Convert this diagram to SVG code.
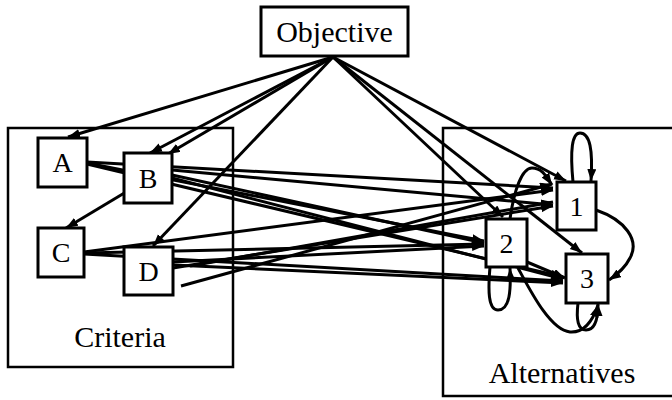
<svg xmlns="http://www.w3.org/2000/svg" width="672" height="400" viewBox="0 0 672 400">
<style>
.box{fill:#fff;stroke:#000;stroke-width:3}
.cont{fill:none;stroke:#000;stroke-width:2.5}
.lbl{font-family:"Liberation Serif","Times New Roman",serif;font-size:28px;fill:#000;text-anchor:middle}
.big{font-family:"Liberation Serif","Times New Roman",serif;font-size:30px;fill:#000;text-anchor:middle}
.edge path{fill:none;stroke:#000;stroke-width:3;marker-end:url(#ah)}
.edge path.plain{marker-end:none}
</style>
<defs>
<marker id="ah" markerUnits="userSpaceOnUse" markerWidth="14" markerHeight="10" refX="12" refY="4.5" orient="auto">
<path d="M0,0 L12,4.5 L0,9 z" fill="#000"/>
</marker>
</defs>
<rect width="672" height="400" fill="#fff"/>
<g id="criteria">
<rect class="cont" x="8" y="128" width="225" height="239"/>
<text class="big" x="120" y="347">Criteria</text>
</g>
<g id="alternatives">
<rect class="cont" x="443" y="128" width="240" height="268"/>
<text class="big" x="562" y="383">Alternatives</text>
</g>
<g id="connectors" class="edge">
<path d="M333,57 L68,137"/>
<path d="M333,57 L150,153"/>
<path d="M333,57 L168,154"/>
<path d="M333,57 L153,246"/>
<path d="M333,57 L566,181"/>
<path d="M333,57 L503,217"/>
<path d="M333,57 L582,253"/>
<path d="M126,192 L66,228"/>
<path d="M87,162 L553,188"/>
<path d="M87,163 L484,241"/>
<path d="M87,164 L563,277"/>
<path d="M172,170 L553,205"/>
<path d="M172,175 L484,243"/>
<path d="M172,178 L563,279"/>
<path d="M84,252 L553,190"/>
<path d="M84,253 L484,244"/>
<path d="M84,254 L563,281"/>
<path d="M173,268 L553,206"/>
<path d="M173,262 L484,246"/>
<path d="M173,265 L563,283"/>
<path d="M181,286 L552,184"/>
<path d="M190,266 L553,202"/>
<path d="M527,262 L565,278"/>
<path d="M573,182 C570,150 572,133 580,133 C590,133 593,150 591,181"/>
<path d="M490,267 C488,290 488,310 498,310 C510,310 511,290 510,268"/>
<path d="M578,303 C576,320 578,330 586,330 C596,330 598,318 598,304"/>
<path d="M596,210 C625,220 640,240 630,258 C624,270 615,276 609,280"/>
<path d="M510,219 C514,190 522,168 532,168 C542,168 546,176 552,185"/>
<path d="M518,268 C530,290 550,330 570,332 C585,333 593,320 598,305"/>
</g>
<g id="objective">
<rect class="box" x="261" y="7" width="147" height="49"/>
<text class="big" x="334.5" y="42">Objective</text>
</g>
<g id="nodeA">
<rect class="box" x="38" y="138" width="49" height="49"/>
<text class="lbl" x="62.5" y="172">A</text>
</g>
<g id="nodeB">
<rect class="box" x="124" y="153" width="48" height="50"/>
<text class="lbl" x="148" y="188">B</text>
</g>
<g id="nodeC">
<rect class="box" x="38" y="228" width="46" height="49"/>
<text class="lbl" x="61" y="262">C</text>
</g>
<g id="nodeD">
<rect class="box" x="124" y="247" width="49" height="48"/>
<text class="lbl" x="148.5" y="281">D</text>
</g>
<g id="node1">
<rect class="box" x="557" y="182" width="39" height="48"/>
<text class="lbl" x="576.5" y="216">1</text>
</g>
<g id="node2">
<rect class="box" x="486" y="219" width="41" height="48"/>
<text class="lbl" x="506.5" y="253">2</text>
</g>
<g id="node3">
<rect class="box" x="566" y="254" width="42" height="49"/>
<text class="lbl" x="587" y="288">3</text>
</g>
</svg>
